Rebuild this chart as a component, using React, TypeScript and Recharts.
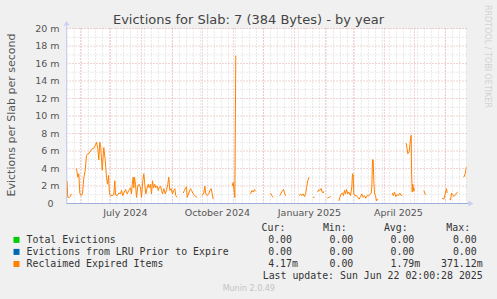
import React from 'react';
import { LineChart, Line, XAxis, YAxis, CartesianGrid } from 'recharts';

const W = 497;
const H = 299;

const title = 'Evictions for Slab: 7 (384 Bytes) - by year';
const yAxisLabel = 'Evictions per Slab per second';
const watermark = 'RRDTOOL / TOBI OETIKER';
const footer = 'Munin 2.0.49';
const lastUpdate = 'Last update: Sun Jun 22 02:00:28 2025';

// x = days since 2024-05-18
const xTickDays = [58.92, 150.92, 242.92, 331.92];
const xTickLabels = ['July 2024', 'October 2024', 'January 2025', 'April 2025'];
const monthStartDays = [13.92, 43.92, 74.92, 105.92, 135.92, 166.92, 196.92, 227.92, 258.92, 286.92, 317.92, 347.92, 378.92];
const firstSunday = 0.92;

const yTicks = [0, 2, 4, 6, 8, 10, 12, 14, 16, 18, 20];
const yTickLabels = ['0', '2 m', '4 m', '6 m', '8 m', '10 m', '12 m', '14 m', '16 m', '18 m', '20 m'];
const yMinorTicks = [1, 3, 5, 7, 9, 11, 13, 15, 17, 19];

// series (values in milli evictions / s); null = no data
const zeroDays = [0, 400];
const totalEvictions = [0, 0];
const lruEvictions = [0, 0];

const reclaimedDays = [
  0.5, 1.3, 2, 3, 4, 4.7, 6,
  10, 11.3, 12.3, 13.3, 14.7, 16, 17.3, 18.7, 20, 21.3, 22.3, 24, 26, 27.3, 29, 30, 31.3, 32.3, 33.3, 34.3, 35.7, 37.3, 38.7, 40, 41, 42, 43, 44, 45.7, 47.3, 48.3, 49, 50.7, 52.3, 54, 55, 56.3, 57.3, 59, 60.7, 62.3, 64, 65, 65.7, 66.7, 67.3, 68, 69, 70, 71.3, 72.7, 74, 75, 76.3, 77.3, 78.3, 79.3, 80.7, 81.7, 82.7, 84, 85, 86, 87, 88.3, 89.3, 90.7, 91.7, 92.7, 94, 95, 96, 97.3, 98.7, 100, 101.3, 102.3, 103.3, 104.7, 106, 107.3, 108.3, 109.3, 110.7, 112,
  116.7, 118, 119, 120, 120.7, 122.3, 124, 125, 126.7, 128, 129.3, 130.7, 132,
  135.7, 137.3, 138.3, 139.3, 140.7, 142.3, 143.3, 144.7, 145.7, 146.7, 148,
  165.7, 166.7, 167.3, 168.3, 169.3, 170,
  184, 185.3, 186.7, 188, 189, 190,
  204, 205.3, 206.7, 208,
  213.3, 214.7, 216, 217, 218, 219, 220,
  233, 234, 235.3, 236.7, 238, 239.3, 240, 241.3, 242.5, 243.5,
  246.5, 248, 249,
  251, 252.3, 253.3, 254.7, 255.7, 256.7, 257.3, 258.5,
  260.7, 262.3, 264, 265,
  272.3, 273.3, 274.7, 276, 277, 278, 279, 280, 281.3, 282.3, 284, 285.3, 286, 286.7, 287.3, 288.3, 290, 291.3, 292.7, 294, 295.3, 296.7, 298, 299.3, 300.7, 302.3, 303.3, 304.7, 305.3, 306, 306.7, 307.3, 308, 309, 310, 310.7, 311.3, 312,
  325.7, 326.7, 328, 329.3, 330.7, 332, 333.3, 334.7, 335.7, 336.5,
  339.7, 341.3, 342.7, 344, 344.7, 345, 345.7, 346.3, 347.3, 348, 349,
  357.3, 358.3, 359, 360,
  375.7, 377.3, 379, 380, 380.7, 381.5,
  383, 384, 385, 386, 387.3, 389, 390, 391.3, 392,
  397.3, 398.7, 400,
];
const reclaimedValues: (number | null)[] = [
  2.6, 0.7, 0.7, 0.7, 0.8, 1.1, null,
  4.0, 3.0, 3.4, 1.2, 0.9, 1.1, 2.9, 3.8, 5.5, 5.7, 5.7, 6.0, 6.3, 6.3, 6.7, 7.0, 6.3, 5.0, 7.0, 6.4, 3.8, 6.4, 5.0, 3.0, 2.2, 3.2, 1.1, 0.9, 0.9, 1.0, 2.6, 1.0, 0.9, 1.2, 1.1, 1.5, 0.9, 1.2, 1.6, 1.1, 1.5, 1.8, 1.1, 2.2, 3.0, 1.8, 3.0, 2.2, 0.7, 2.0, 2.2, 1.8, 0.7, 2.6, 3.4, 2.2, 1.1, 1.8, 2.2, 1.8, 2.2, 1.1, 2.6, 1.8, 2.2, 1.8, 2.0, 1.5, 1.8, 2.0, 1.5, 1.1, 1.7, 1.1, 1.5, 2.2, 3.0, 1.5, 1.7, 1.1, 1.5, 1.7, 0.9, 0.7, null,
  1.2, 1.5, 1.8, 1.9, 0.7, 1.2, 1.7, 1.5, 1.1, 0.9, 0.8, 0.7, null,
  0.9, 1.2, 2.0, 1.1, 0.9, 1.1, 1.5, 1.7, 1.1, 0.5, null,
  2.0, 2.4, 1.7, 0.7, 16.9, null,
  1.1, 1.5, 1.3, 1.6, 1.4, null,
  1.2, 0.9, 0.7, null,
  0.9, 1.2, 1.5, 1.6, 1.2, 0.9, null,
  0.9, 1.1, 0.9, 1.1, 0.8, 1.2, 1.8, 2.6, 3.0, null,
  0.7, 0.7, null,
  1.3, 1.6, 1.5, 1.7, 1.3, 1.2, 1.4, null,
  0.6, 0.7, 0.8, null,
  0.3, 0.7, 1.1, 1.2, 0.9, 1.5, 1.1, 1.6, 1.1, 1.3, 0.9, 1.9, 3.4, 3.3, 1.1, 0.9, 0.9, 0.7, 0.5, 0.8, 1.1, 0.7, 0.9, 0.6, 0.9, 0.9, 1.0, 1.2, 1.9, 5.0, 5.0, 2.6, 1.2, 0.9, 0.3, 0.4, 0.5, null,
  1.2, 0.9, 1.3, 0.8, 1.0, 0.9, 1.2, 0.9, 1.0, null,
  6.9, 5.7, 5.9, 7.4, 7.8, 4.0, 1.3, 2.2, 1.4, 1.7, null,
  1.5, 1.2, 1.0, null,
  0.6, 0.5, 1.2, 1.7, 1.2, null,
  0.5, 0.4, 1.2, 1.0, 0.8, 1.0, 1.2, 1.3, null,
  3.0, 3.4, 4.2,
];

const seriesNames = ['Total Evictions', 'Evictions from LRU Prior to Expire', 'Reclaimed Expired Items'];
const seriesColors = ['#00cc00', '#0066b3', '#ff8000'];
const statHeaders = ['Cur:', 'Min:', 'Avg:', 'Max:'];
const curValues = ['0.00', '0.00', '4.17m'];
const minValues = ['0.00', '0.00', '0.00'];
const avgValues = ['0.00', '0.00', '1.79m'];
const maxValues = ['0.00', '0.00', '371.12m'];

const totalData = zeroDays.map((d, i) => ({ d, v: totalEvictions[i] }));
const lruData = zeroDays.map((d, i) => ({ d, v: lruEvictions[i] }));
const reclaimedData = reclaimedDays.map((d, i) => ({ d, v: reclaimedValues[i] }));

const weekDays: number[] = [];
for (let d = firstSunday; d <= 400; d += 7) weekDays.push(d);

const SANS = 'DejaVu Sans';
const MONO = 'DejaVu Sans Mono';

const XTick = (props: any) => {
  const { x, y, payload, index } = props;
  let i = xTickDays.indexOf(payload.value);
  if (i < 0) i = index;
  return (
    <text x={x} y={y} dy={12.5} textAnchor="middle" fontFamily={SANS} fontSize={9.5} fill="#555">
      {xTickLabels[i]}
    </text>
  );
};

const YTick = (props: any) => {
  const { x, y, payload, index } = props;
  let i = yTicks.indexOf(payload.value);
  if (i < 0) i = index;
  const label = yTickLabels[i];
  const shift = label.endsWith('m') ? 1 : 7;
  return (
    <text x={x - shift} y={y} dy={3.3} textAnchor="end" fontFamily={SANS} fontSize={9.5} fill="#555">
      {label}
    </text>
  );
};

const splitVal = (s: string) => (s.endsWith('m') ? [s.slice(0, -1), 'm'] : [s, '']);

const colRight = [292, 353.3, 414.3, 476.7];
const rowBase = [243.2, 255.2, 267.3];
const statCols = [curValues, minValues, avgValues, maxValues];

export default function App() {
  return (
    <div style={{ position: 'absolute', left: 0, top: 0, width: W, height: H, background: '#f0f0f0', overflow: 'hidden' }}>
      <LineChart width={W} height={H} margin={{ top: 28.5, right: 30.5, bottom: 75.5, left: 6.5 }}>
        <CartesianGrid fill="#ffffff" horizontal={false} vertical={false} />
        <CartesianGrid horizontal={false} verticalValues={weekDays} stroke="#d4d4d4" strokeDasharray="1 2" />
        <CartesianGrid horizontal={false} verticalValues={monthStartDays} stroke="#e3a6a6" strokeDasharray="1 2" />
        <CartesianGrid vertical={false} horizontalValues={yMinorTicks} stroke="#d4d4d4" strokeDasharray="1 2" />
        <CartesianGrid vertical={false} horizontalValues={yTicks.filter((t) => t > 0)} stroke="#e3a6a6" strokeDasharray="1 2" />
        <XAxis
          type="number"
          dataKey="d"
          domain={[0, 400]}
          ticks={xTickDays}
          interval={0}
          allowDataOverflow
          height={20}
          tickLine={false}
          tickSize={0}
          tickMargin={0}
          axisLine={{ stroke: '#9fb0dc' }}
          tick={<XTick />}
        />
        <YAxis
          type="number"
          domain={[0, 20]}
          ticks={yTicks}
          interval={0}
          allowDataOverflow
          width={60}
          tickLine={false}
          tickSize={0}
          tickMargin={6}
          axisLine={{ stroke: '#c8d0f4' }}
          tick={<YTick />}
        />
        <Line data={totalData} dataKey="v" stroke={seriesColors[0]} dot={false} isAnimationActive={false} strokeWidth={1} />
        <Line data={lruData} dataKey="v" stroke={seriesColors[1]} strokeOpacity={0.5} dot={false} isAnimationActive={false} strokeWidth={1} />
        <Line data={reclaimedData} dataKey="v" stroke={seriesColors[2]} dot={false} connectNulls={false} isAnimationActive={false} strokeWidth={1} />
      </LineChart>
      <svg width={W} height={H} style={{ position: 'absolute', left: 0, top: 0, pointerEvents: 'none' }}>
        <text x={248.5} y={23.6} textAnchor="middle" fontFamily={SANS} fontSize={13} fill="#444">{title}</text>
        <text x={14.6} y={115} transform="rotate(-90 14.6 115)" textAnchor="middle" fontFamily={SANS} fontSize={11} fill="#555">{yAxisLabel}</text>
        <text x={485} y={5} transform="rotate(90 485 5)" textAnchor="start" fontFamily={SANS} fontSize={8} fill="#d2d2d2">{watermark}</text>
        <line x1={66.5} y1={28.5} x2={66.5} y2={25} stroke="#c8d0f4" />
        <polygon points="63.5,25.5 69.5,25.5 66.5,21" fill="#c8d0f4" />
        <line x1={466.5} y1={203.5} x2={469} y2={203.5} stroke="#9fb0dc" />
        <polygon points="468.5,200.5 468.5,206.5 473.5,203.5" fill="#c8d0f4" />
        {statHeaders.map((h, j) => (
          <text key={h} x={colRight[j] - 6.6} y={231.4} textAnchor="end" fontFamily={MONO} fontSize={9.9} fill="#333">{h}</text>
        ))}
        {seriesNames.map((name, i) => (
          <g key={name}>
            <rect x={13.5} y={rowBase[i] - 6.3} width={6} height={6} fill={seriesColors[i]} />
            <text x={26.6} y={rowBase[i]} fontFamily={MONO} fontSize={9.9} fill="#333">{name}</text>
            {statCols.map((col, j) => {
              const [num, unit] = splitVal(col[i]);
              return (
                <g key={j}>
                  <text x={colRight[j]} y={rowBase[i]} textAnchor="end" fontFamily={MONO} fontSize={9.9} fill="#333">{num}</text>
                  {unit && <text x={colRight[j]} y={rowBase[i]} fontFamily={MONO} fontSize={9.9} fill="#333">{unit}</text>}
                </g>
              );
            })}
          </g>
        ))}
        <text x={482.7} y={279.3} textAnchor="end" fontFamily={MONO} fontSize={9.9} fill="#333">{lastUpdate}</text>
        <text x={248.8} y={291} textAnchor="middle" fontFamily={SANS} fontSize={8} fill="#c4c4c4">{footer}</text>
      </svg>
    </div>
  );
}
